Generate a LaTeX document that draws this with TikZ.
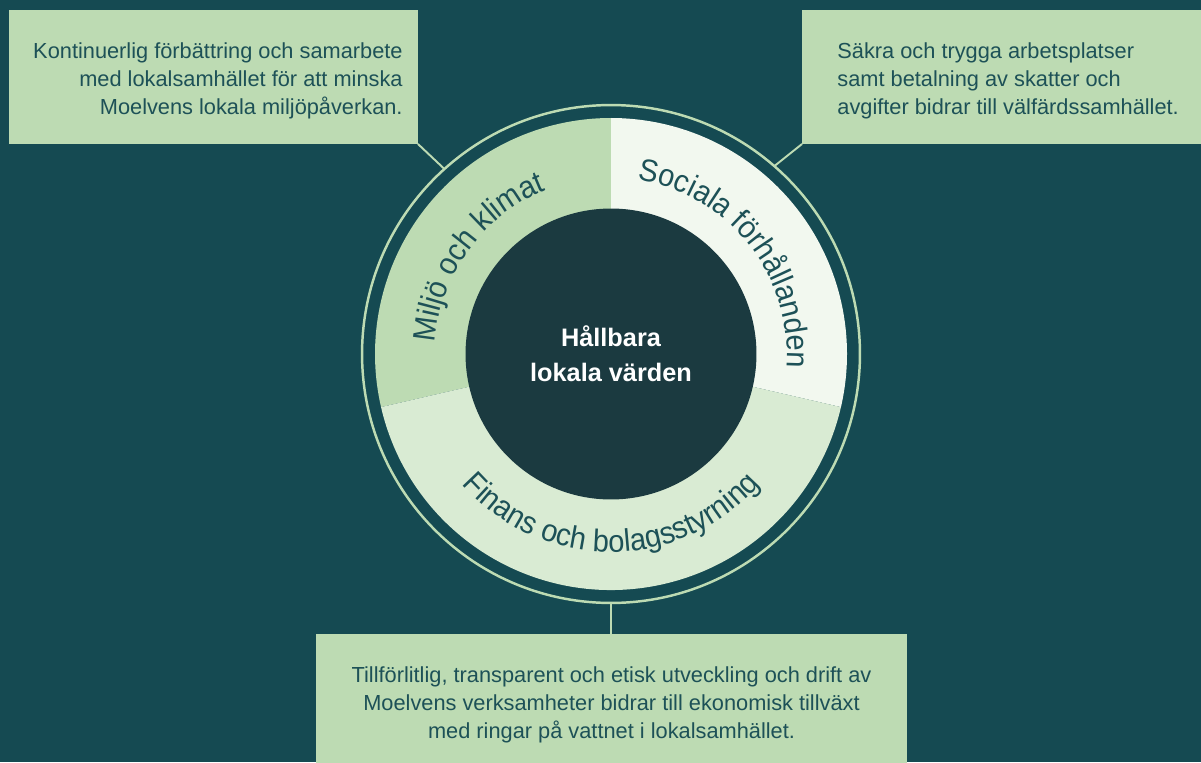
\documentclass[tikz,border=0pt]{standalone}
\usepackage{fontspec}
\setmainfont{Liberation Sans}
\newfontfamily\arcfam[FakeStretch=0.93]{Liberation Sans}
\usetikzlibrary{decorations.text}
\definecolor{BG}{HTML}{154A52}
\definecolor{CORE}{HTML}{1B3A40}
\definecolor{G1}{HTML}{BDDBB3}
\definecolor{G2}{HTML}{F2F8EF}
\definecolor{G3}{HTML}{D9EBD3}
\definecolor{TXT}{HTML}{1D5157}
\tikzset{%
  infobox/.style={fill=G1, minimum height=2.68cm, inner sep=0pt, outer sep=0pt},%
  boxtext/.style={inner sep=0pt, text=TXT, font=\fontsize{12.4}{15.9}\selectfont},%
  arclabel/.style={decorate, decoration={text along path, text align=center, text color=TXT, text={|\arcfam\fontsize{17.8}{20}\selectfont|#1}}},%
  link/.style={draw=G1, line width=1.1pt},%
}
\begin{document}
\begin{tikzpicture}[x=0.02cm, y=0.02cm]%
\useasboundingbox (0,0) rectangle (1201,762);%
\fill[BG] (0,0) rectangle (1201,762);%
\coordinate (mid) at (611,408);%
% three sectors of the wheel
\fill[G1] (mid) -- ++(90:236) arc[start angle=90, end angle=193, radius=236] -- cycle;%
\fill[G2] (mid) -- ++(-13:236) arc[start angle=-13, end angle=90, radius=236] -- cycle;%
\fill[G3] (mid) -- ++(193:236) arc[start angle=193, end angle=347, radius=236] -- cycle;%
\node[circle, draw=G1, line width=1.4pt, minimum size=9.96cm, inner sep=0pt, outer sep=0pt] (ring) at (mid) {};%
\node[circle, fill=CORE, minimum size=5.82cm, inner sep=0pt, text=white, align=center, font=\bfseries\fontsize{14.4}{20}\selectfont] (core) at (mid) {Hållbara\\lokala värden};%
% labels along the sectors
\path[arclabel={Miljö och klimat}] ([shift={(200:176)}]mid) arc[start angle=200, end angle=88, radius=176];%
\path[arclabel={Sociala förhållanden}] ([shift={(92:176)}]mid) arc[start angle=92, end angle=-15, radius=176];%
\path[arclabel={Finans och bolagsstyrning}] ([shift={(200:198)}]mid) arc[start angle=200, end angle=340, radius=198];%
% text boxes
\node[infobox, minimum width=8.18cm] (miljobox) at (213.5,685) {};%
\node[boxtext, align=right, anchor=east] (miljotext) at ([xshift=-0.3cm, yshift=-0.08cm]miljobox.east) {Kontinuerlig förbättring och samarbete\\med lokalsamhället för att minska\\Moelvens lokala miljöpåverkan.};%
\node[infobox, minimum width=8.18cm] (socbox) at (1006.5,685) {};%
\node[boxtext, align=left, anchor=west] (soctext) at ([xshift=0.7cm, yshift=-0.08cm]socbox.west) {Säkra och trygga arbetsplatser\\samt betalning av skatter och\\avgifter bidrar till välfärdssamhället.};%
\node[infobox, minimum width=11.82cm] (finbox) at (611.5,61) {};%
\node[boxtext, align=center] (fintext) at ([yshift=-0.07cm]finbox.center) {Tillförlitlig, transparent och etisk utveckling och drift av\\Moelvens verksamheter bidrar till ekonomisk tillväxt\\med ringar på vattnet i lokalsamhället.};%
\draw[link] (miljobox.south east) -- (ring.132);%
\draw[link] (socbox.south west) -- (ring.49);%
\draw[link] (ring.south) -- (finbox.north -| ring.south);%
\end{tikzpicture}
\end{document}
